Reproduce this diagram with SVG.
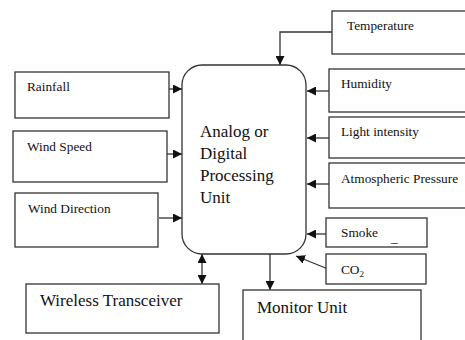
<svg xmlns="http://www.w3.org/2000/svg" width="465" height="340" viewBox="0 0 465 340">
<defs>
<marker id="ah" viewBox="0 0 10 10" refX="10" refY="5" markerWidth="9" markerHeight="9" markerUnits="userSpaceOnUse" orient="auto-start-reverse">
<path d="M0,0 L10,5 L0,10 Z" fill="#111"/>
</marker>
</defs>
<style>
.box{fill:#fff;stroke:#333;stroke-width:1.3}
text{font-family:'Liberation Serif','Times New Roman','DejaVu Serif',serif;fill:#111}
.lbl{font-size:13.3px}
.big{font-size:17px}
.con{fill:none;stroke:#333;stroke-width:1.3;marker-end:url(#ah)}
.dbl{marker-start:url(#ah)}
</style>
<rect width="465" height="340" fill="#fff"/>
<g id="connectors">
<path class="con" d="M169,89 H182"/>
<path class="con" d="M167,154 H182"/>
<path class="con" d="M159,218 H182"/>
<path class="con dbl" d="M202,254 V284"/>
<path class="con" d="M332,32 H280 V65"/>
<path class="con" d="M329,91 H307"/>
<path class="con" d="M329,138 H307"/>
<path class="con" d="M329,184 H307"/>
<path class="con" d="M326,234 H307"/>
<path class="con" d="M328,269 L296,256"/>
<path class="con" d="M270,254 V290"/>
</g>
<g id="processor">
<rect class="box" x="182" y="65" width="124" height="189" rx="20"/>
<text class="big" x="200" y="137">Analog or</text>
<text class="big" x="200" y="159">Digital</text>
<text class="big" x="200" y="181">Processing</text>
<text class="big" x="200" y="203">Unit</text>
</g>
<g id="rainfall">
<rect class="box" x="15" y="72" width="154" height="46"/>
<text class="lbl" x="27" y="91">Rainfall</text>
</g>
<g id="windspeed">
<rect class="box" x="13" y="131" width="154" height="51"/>
<text class="lbl" x="27" y="151">Wind Speed</text>
</g>
<g id="winddirection">
<rect class="box" x="15" y="193" width="143" height="54"/>
<text class="lbl" x="28" y="213">Wind Direction</text>
</g>
<g id="transceiver">
<rect class="box" x="26" y="284" width="193" height="49"/>
<text class="big" x="40" y="306">Wireless Transceiver</text>
</g>
<g id="temperature">
<rect class="box" x="332" y="11" width="140" height="43"/>
<text class="lbl" x="347" y="30">Temperature</text>
</g>
<g id="humidity">
<rect class="box" x="329" y="69" width="143" height="43"/>
<text class="lbl" x="341" y="88">Humidity</text>
</g>
<g id="light">
<rect class="box" x="329" y="117" width="143" height="41"/>
<text class="lbl" x="341" y="136">Light intensity</text>
</g>
<g id="pressure">
<rect class="box" x="329" y="163" width="143" height="45"/>
<text class="lbl" x="341" y="183">Atmospheric Pressure</text>
</g>
<g id="smoke">
<rect class="box" x="326" y="218" width="101" height="29"/>
<text class="lbl" x="341" y="237">Smoke</text>
<text class="lbl" x="391" y="242">_</text>
</g>
<g id="co2">
<rect class="box" x="326" y="254" width="100" height="30"/>
<text class="lbl" x="341" y="274">CO<tspan font-size="9" dy="3">2</tspan></text>
</g>
<g id="monitor">
<rect class="box" x="243" y="290" width="178" height="60"/>
<text class="big" x="257" y="313">Monitor Unit</text>
</g>
</svg>
